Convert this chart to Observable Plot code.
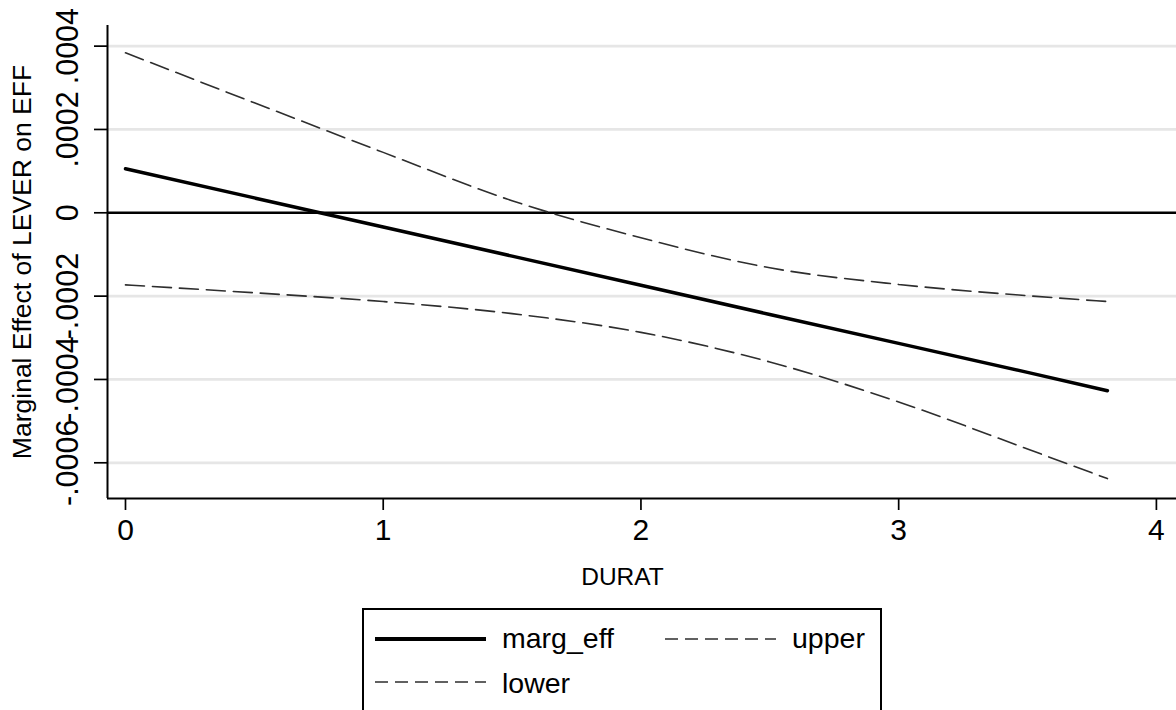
<!DOCTYPE html>
<html>
<head>
<meta charset="utf-8">
<script src="https://cdn.jsdelivr.net/npm/d3@7"></script>
<script src="https://cdn.jsdelivr.net/npm/@observablehq/plot@0.6"></script>
<style>
  html, body { margin: 0; padding: 0; background: #fff; }
  #wrap { position: relative; width: 1176px; height: 710px; overflow: hidden; font-family: "Liberation Sans", Arial, sans-serif; }
  #legend { position: absolute; left: 362px; top: 608px; }
</style>
</head>
<body>
<div id="wrap">
  <div id="chart"></div>
  <div id="legend"></div>
</div>
<script>
// Marginal effect of LEVER on EFF across DURAT, with confidence bounds
const durat    = [0, 0.5, 1, 1.5, 2, 2.5, 3, 3.5, 3.81];
const margEff  = [1.056e-4, 0.357e-4, -0.341e-4, -1.04e-4, -1.738e-4, -2.44e-4, -3.135e-4, -3.83e-4, -4.27e-4];
const upper    = [3.84e-4, 2.64e-4, 1.45e-4, 0.29e-4, -0.60e-4, -1.32e-4, -1.72e-4, -1.99e-4, -2.13e-4];
const lower    = [-1.73e-4, -1.92e-4, -2.13e-4, -2.42e-4, -2.87e-4, -3.58e-4, -4.54e-4, -5.67e-4, -6.38e-4];

const xTicks = [0, 1, 2, 3, 4];
const xTickLabels = ["0", "1", "2", "3", "4"];
const yTicks = [-0.0006, -0.0004, -0.0002, 0, 0.0002, 0.0004];
const yTickLabels = ["-.0006", "-.0004", "-.0002", "0", ".0002", ".0004"];

const xTitle = "DURAT";
const yTitle = "Marginal Effect of LEVER on EFF";
const seriesNames = ["marg_eff", "upper", "lower"];

const xDomain = [-0.0698, 4.078];
const yDomain = [-6.857e-4, 4.495e-4];

const rows = durat.map((d, i) => ({durat: d, marg_eff: margEff[i], upper: upper[i], lower: lower[i]}));

const font = "'Liberation Sans', Arial, sans-serif";
const dashColor = "#2e2e2e";

const chart = Plot.plot({
  width: 1176,
  height: 600,
  marginLeft: 107,
  marginRight: 0,
  marginTop: 25,
  marginBottom: 102,
  style: {fontFamily: font, background: "white", color: "black", overflow: "visible"},
  x: {domain: xDomain},
  y: {domain: yDomain},
  marks: [
    Plot.gridY(yTicks.filter(v => v !== 0), {stroke: "#e6e6e6", strokeOpacity: 1, strokeWidth: 2.7}),
    Plot.ruleY([0], {stroke: "black", strokeWidth: 2.4}),
    Plot.line(rows, {x: "durat", y: "upper", stroke: dashColor, strokeWidth: 1.6, strokeDasharray: "19 8", curve: "monotone-x"}),
    Plot.line(rows, {x: "durat", y: "lower", stroke: dashColor, strokeWidth: 1.6, strokeDasharray: "19 8", curve: "monotone-x"}),
    Plot.line(rows, {x: "durat", y: "marg_eff", stroke: "black", strokeWidth: 3.5}),
    Plot.ruleX([xDomain[0]], {stroke: "black", strokeWidth: 2}),
    Plot.ruleY([yDomain[0]], {stroke: "black", strokeWidth: 2}),
    Plot.axisY(yTicks, {
      tickSize: 13, tickPadding: 17, tickRotate: -90, strokeWidth: 1.7,
      tickFormat: v => yTickLabels[yTicks.indexOf(v)], fontSize: 30.5, label: null
    }),
    Plot.axisX(xTicks, {
      tickSize: 12, tickPadding: 8, strokeWidth: 1.7,
      tickFormat: v => xTickLabels[xTicks.indexOf(v)], fontSize: 30, label: null
    }),
    Plot.text([yTitle], {text: d => d, frameAnchor: "left", textAnchor: "middle", rotate: -90, dx: -85, lineAnchor: "middle", fontSize: 26.5, fill: "black"}),
    Plot.text([xTitle], {text: d => d, frameAnchor: "bottom", textAnchor: "middle", dx: -19.5, dy: 86, lineAnchor: "bottom", fontSize: 24.5, fill: "black"})
  ]
});
document.getElementById("chart").appendChild(chart);

// Legend box below the plot
const ns = "http://www.w3.org/2000/svg";
const lg = document.createElementNS(ns, "svg");
lg.setAttribute("width", 522);
lg.setAttribute("height", 130);
lg.style.fontFamily = font;
const el = (tag, attrs) => {
  const e = document.createElementNS(ns, tag);
  for (const k in attrs) if (attrs[k] != null) e.setAttribute(k, attrs[k]);
  lg.appendChild(e);
  return e;
};
el("rect", {x: 1, y: 1, width: 518, height: 125, fill: "white", stroke: "black", "stroke-width": 2});
const entries = [
  {name: seriesNames[0], sx: 12, ty: 40, ly: 31, solid: true},
  {name: seriesNames[1], sx: 302, ty: 40, ly: 31, solid: false},
  {name: seriesNames[2], sx: 12, ty: 85, ly: 74, solid: false}
];
for (const e of entries) {
  el("line", {
    x1: e.sx + 1, x2: e.sx + 112, y1: e.ly, y2: e.ly,
    stroke: e.solid ? "black" : dashColor,
    "stroke-width": e.solid ? 4 : 1.7,
    "stroke-dasharray": e.solid ? null : "13 7"
  });
  const t = el("text", {x: e.sx + 128, y: e.ty, "font-size": 28.5, fill: "black"});
  t.textContent = e.name;
}
document.getElementById("legend").appendChild(lg);
</script>
</body>
</html>
